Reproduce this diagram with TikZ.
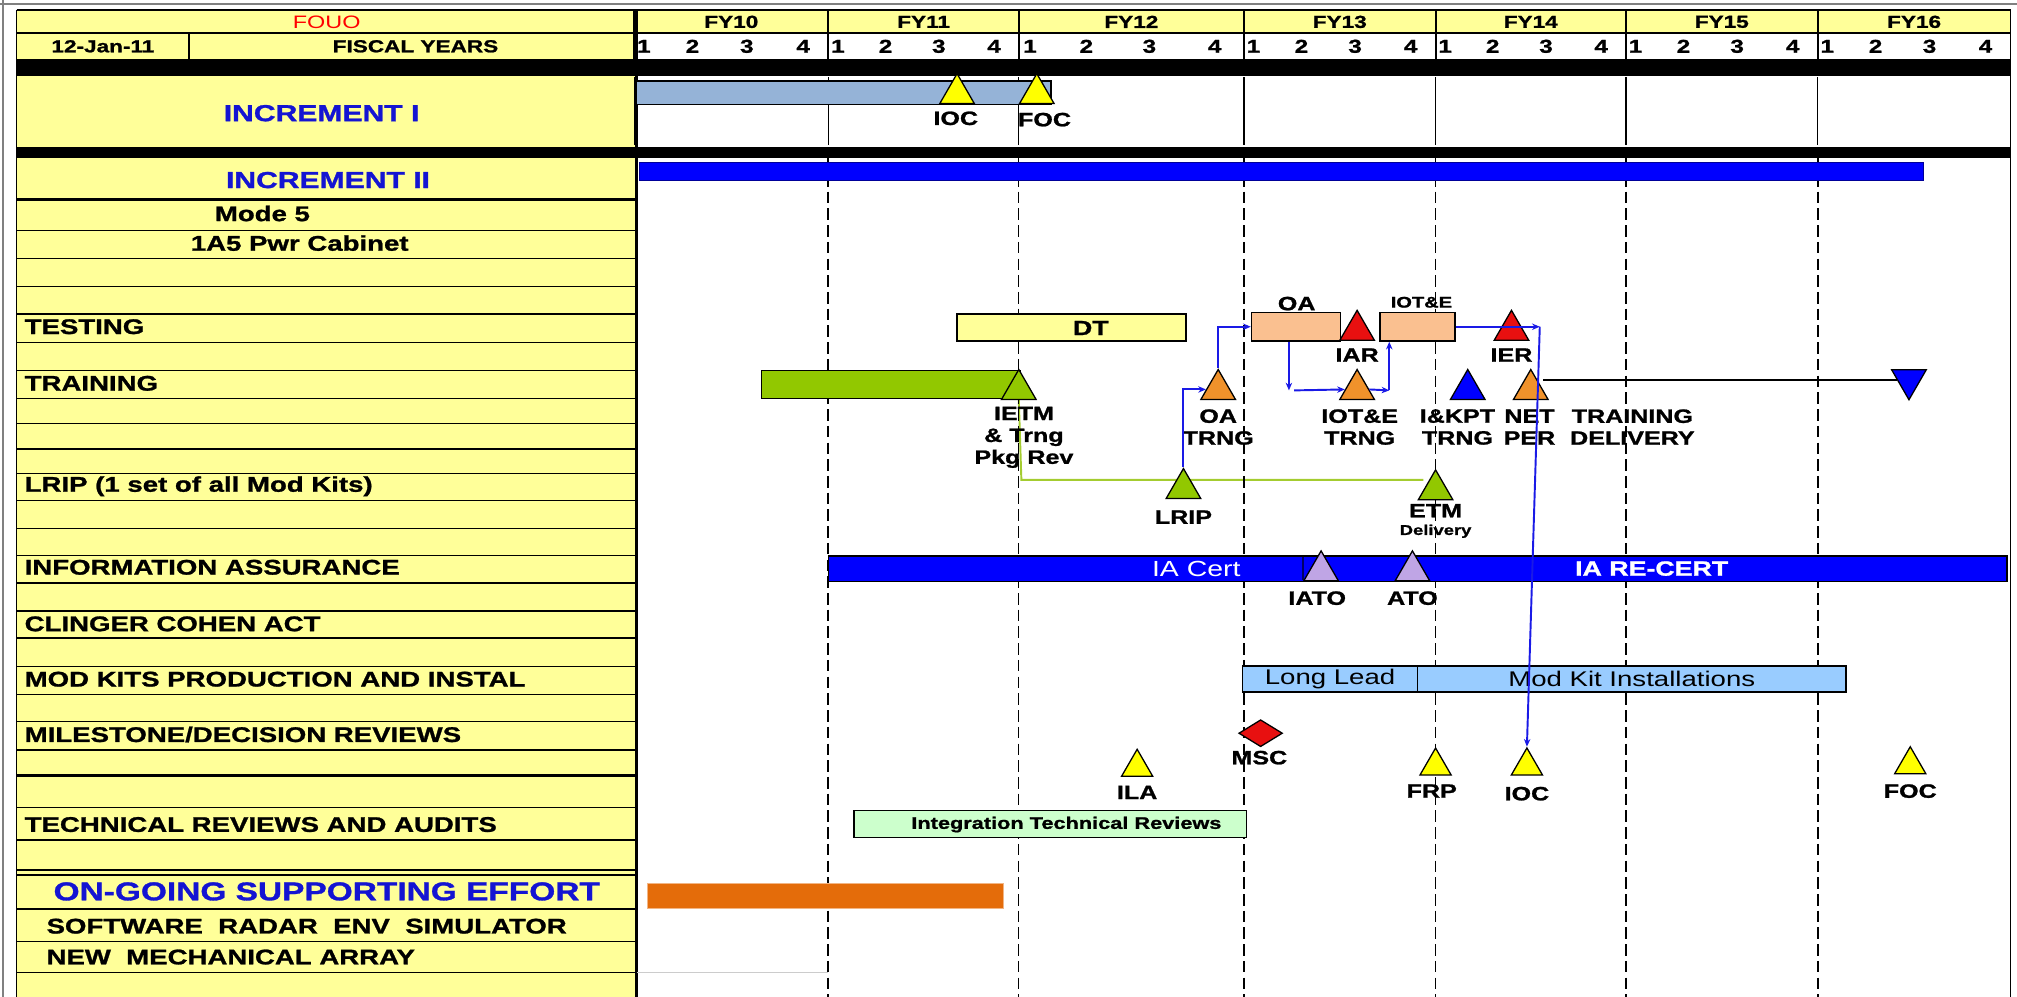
\documentclass[tikz,border=0pt]{standalone}
\usepackage{fontspec}
\setmainfont{Liberation Sans}[FakeStretch=1.3, BoldFeatures={FakeBold=1.2}]
\usetikzlibrary{arrows.meta, shapes.geometric, backgrounds}
\newcommand{\fsize}[1]{\fontsize{#1}{#1}\selectfont}
\definecolor{hdryellow}{HTML}{FFFF99}
\definecolor{incblue}{HTML}{95B3D7}
\definecolor{barblue}{HTML}{0000FF}
\definecolor{lblblue}{HTML}{1414D2}
\definecolor{peach}{HTML}{FAC090}
\definecolor{trgreen}{HTML}{92C800}
\definecolor{lineGreen}{HTML}{A4CC30}
\definecolor{msorange}{HTML}{F0922B}
\definecolor{msred}{HTML}{E81010}
\definecolor{msyellow}{HTML}{FFFF00}
\definecolor{mspurple}{HTML}{BFA5E5}
\definecolor{modblue}{HTML}{99CCFF}
\definecolor{itrgreen}{HTML}{CCFFCC}
\definecolor{ongoing}{HTML}{E46C0A}
\definecolor{arrowblue}{HTML}{1A1AE6}

\begin{document}
\begin{tikzpicture}[x=1pt, y=-1pt, >=Stealth,
    rowlbl/.style={anchor=west, inner sep=0pt, font=\bfseries\fsize{16.5}},
    hdrlbl/.style={inner sep=0pt, font=\bfseries\fsize{13.5}},
    mslbl/.style={inner sep=0pt, align=center, font=\bfseries\fontsize{15}{17}\selectfont},
    tri/.style={regular polygon, regular polygon sides=3, draw=black, line width=1pt,
      inner sep=0pt, minimum size=31pt, anchor=south},
    bar/.style={draw=black, line width=1.3pt, inner sep=0pt, font=\fsize{16.5}},
    flow/.style={->, draw=arrowblue, line width=1.5pt, >={Stealth[length=6pt,width=5pt]}},
    fyline/.style={dash pattern=on 9pt off 4pt}]
  \useasboundingbox (0,0) rectangle (1568,775);
  % frame and fills
  \draw[gray, line width=1.5pt] (0,3) -- (1568,3);
  \draw[gray, line width=1.5pt] (2,0) -- (2,775);
  \fill[hdryellow] (13,8) rectangle (495,46);
  \fill[hdryellow] (495,8) rectangle (1563,26);
  \fill[hdryellow] (13,59) rectangle (495,775);
  \fill (13,46) rectangle (1563,59);
  \fill (13,114) rectangle (1563,123);
  % header
  \draw[line width=1.5pt] (13,8) -- (1563,8) (13,26) -- (1563,26);
  \draw[line width=1.2pt] (147,26) -- (147,46);
  \node[inner sep=0pt, text=red, font=\fsize{14}] (fouo) at (254,17) {FOUO};
  \node[hdrlbl] (today) at (80,36) {12-Jan-11};
  \node[hdrlbl] (fiscal) at (323,36) {FISCAL YEARS};
  \foreach \xa/\xb/\fy in {493/644/10, 644/792/11, 792/967/12, 967/1116/13,
      1116/1264/14, 1264/1413/15, 1413/1563/16} {
    \draw[line width=1.5pt] (\xa,8) -- (\xa,46);
    \draw[line width=1pt] (\xa,60) -- (\xa,113);
    \node[hdrlbl] (fy\fy) at ({(\xa+\xb)/2},17) {FY\fy};
    \foreach \q/\f in {1/0.05, 2/0.3, 3/0.58, 4/0.87}
      \node[hdrlbl, font=\bfseries\fsize{14.5}] (q\fy-\q) at ({\xa+\f*(\xb-\xa)},36) {\q};
  }
  % rows of the left column
  \foreach \yy/\lw in {155/2.2, 179/1, 201/1, 223/1, 244/1, 266/1, 288/1, 310/1,
      329/1, 349/1, 368/1, 389/1, 411/1, 432/1, 453/1.6, 475/1, 496/1, 518/1,
      540/1, 561/1, 583/1, 603/2, 628/1, 653/1, 676/1.6, 680/1.6, 707/1.6,
      732/1, 756/1}
    \draw[line width=\lw pt] (13,\yy) -- (495,\yy);
  \draw[line width=1pt] (13,8) -- (13,775);
  \draw[line width=2pt] (495,8) -- (495,775);
  \draw[line width=1.2pt] (1563,8) -- (1563,775);
  \draw[gray!40] (495,756) -- (644,756);
  % fiscal year lines
  \foreach \xx/\lw in {644/1.5, 792/1, 967/1.5, 1116/1, 1264/0.9, 1413/1.5}
    \draw[fyline, line width=\lw pt] (\xx,123) -- (\xx,775);
  % left column labels
  \node[inner sep=0pt, text=lblblue, font=\bfseries\fsize{18}] (inc1) at (250,88) {INCREMENT I};
  \node[inner sep=0pt, text=lblblue, font=\bfseries\fsize{18}] (inc2) at (255,140) {INCREMENT II};
  \node[inner sep=0pt, font=\bfseries\fsize{16.5}] (mode5) at (204,166) {Mode 5};
  \node[inner sep=0pt, font=\bfseries\fsize{16.5}] (pwrcab) at (233,189) {1A5 Pwr Cabinet};
  \node[rowlbl] (testing) at (19,254) {TESTING};
  \node[rowlbl] (training) at (19,298) {TRAINING};
  \node[rowlbl] (lriprow) at (19,378) {LRIP (1 set of all Mod Kits)};
  \node[rowlbl] (infoassur) at (19,441) {INFORMATION ASSURANCE};
  \node[rowlbl] (clinger) at (19,485) {CLINGER COHEN ACT};
  \node[rowlbl] (modkits) at (19,528) {MOD KITS PRODUCTION AND INSTAL};
  \node[rowlbl] (milestone) at (19,571) {MILESTONE/DECISION REVIEWS};
  \node[rowlbl] (techrev) at (19,641) {TECHNICAL REVIEWS AND AUDITS};
  \node[inner sep=0pt, text=lblblue, font=\bfseries\fsize{20}] (ongoinglbl) at (254,693) {ON-GOING SUPPORTING EFFORT};
  \node[rowlbl] (software) at (36,720) {SOFTWARE\ \ RADAR\ \ ENV\ \ SIMULATOR};
  \node[rowlbl] (mecharray) at (36,744) {NEW\ \ MECHANICAL ARRAY};
  % bars
  \node[bar, line width=1pt, fill=incblue, minimum width=322pt, minimum height=18pt] (inc1bar) at (656,72) {};
  \node[bar, line width=0.8pt, draw=barblue!60!black, fill=barblue, minimum width=998pt, minimum height=14pt] (inc2bar) at (996,133) {};
  \node[bar, fill=hdryellow, minimum width=178pt, minimum height=21pt] (dt) at (833,254.5) {};
  \node[bar, fill=peach, minimum width=69pt, minimum height=22pt] (oa) at (1007.5,254) {};
  \node[bar, fill=peach, minimum width=58pt, minimum height=22pt] (iote) at (1102,254) {};
  \node[bar, line width=1pt, fill=trgreen, minimum width=201pt, minimum height=22pt] (trainbar) at (692.5,299) {};
  \node[bar, fill=barblue, minimum width=916pt, minimum height=20pt] (iabar) at (1102,442) {};
  \draw[line width=1.5pt, barblue!40!black] (1013,433) -- (1013,451);
  \node[bar, fill=modblue, minimum width=136pt, minimum height=20pt] (longlead) at (1034,528) {Long Lead};
  \node[bar, fill=modblue, minimum width=333pt, minimum height=20pt] (modinst) at (1268.5,528) {Mod Kit Installations};
  \node[bar, fill=itrgreen, minimum width=305pt, minimum height=21pt] (itr) at (816.5,640.5) {};
  \node[bar, line width=0.8pt, draw=ongoing!50!white, fill=ongoing, minimum width=277pt, minimum height=19pt] (ongoingbar) at (641.5,696.5) {};
  % bar texts
  \node[inner sep=0pt, font=\bfseries\fsize{16}] (dtlbl) at (848,255) {DT};
  \node[inner sep=0pt, text=white, font=\fsize{17}] (iacert) at (930,442) {IA Cert};
  \node[inner sep=0pt, text=white, font=\bfseries\fsize{16}] (iarecert) at (1284,442) {IA RE-CERT};
  \node[inner sep=0pt, font=\bfseries\fsize{13}] (itrlbl) at (829,641) {Integration Technical Reviews};
  \coordinate (gturn) at (794,373);
  % milestones
  \node[tri, fill=msyellow] (ioc1) at (744,81) {};
  \node[tri, fill=msyellow] (foc1) at (806,81) {};
  \node[tri, fill=trgreen] (ietm) at (792,311) {};
  \node[tri, fill=trgreen] (lrip) at (920,388) {};
  \node[tri, fill=msorange] (oatrng) at (947,311) {};
  \node[tri, fill=msred] (iar) at (1055,265) {};
  \node[tri, fill=msorange] (iotetrng) at (1055,311) {};
  \node[tri, fill=barblue] (ikpt) at (1141,311) {};
  \node[tri, fill=msorange] (netper) at (1190,311) {};
  \node[tri, fill=msred] (ier) at (1175,265) {};
  \node[tri, fill=barblue, shape border rotate=180, anchor=north] (trdeliv) at (1484,287) {};
  \node[tri, fill=trgreen] (etm) at (1116,389) {};
  \node[tri, fill=mspurple] (iato) at (1027,452) {};
  \node[tri, fill=mspurple] (ato) at (1098,452) {};
  \node[tri, fill=msyellow, minimum size=28pt] (ila) at (884,604) {};
  \node[tri, fill=msyellow, minimum size=28pt] (frp) at (1116,603) {};
  \node[tri, fill=msyellow, minimum size=28pt] (ioc2) at (1187,603) {};
  \node[tri, fill=msyellow, minimum size=28pt] (foc2) at (1485,602) {};
  \node[diamond, draw=black, line width=1pt, fill=msred, inner sep=0pt,
    minimum width=34pt, minimum height=21pt] (msc) at (980,570) {};
  % milestone texts
  \node[mslbl] (ioc1lbl) at (743,92) {IOC};
  \node[mslbl] (foc1lbl) at (812,93) {FOC};
  \node[mslbl] (oalbl) at (1008,236) {OA};
  \node[inner sep=0pt, font=\bfseries\fsize{12}] (iotelbl) at (1105,235) {IOT\&E};
  \node[mslbl] (iarlbl) at (1055,276) {IAR};
  \node[mslbl] (ierlbl) at (1175,276) {IER};
  \node[mslbl] (ietmlbl) at (796,340) {IETM\\\& Trng\\Pkg Rev};
  \node[mslbl] (oatrnglbl) at (947,332) {OA\\TRNG};
  \node[mslbl] (iotetrnglbl) at (1057,332) {IOT\&E\\TRNG};
  \node[mslbl] (ikptlbl) at (1133,332) {I\&KPT\\TRNG};
  \node[mslbl] (netperlbl) at (1189,332) {NET\\PER};
  \node[mslbl] (trdelivlbl) at (1269,332) {TRAINING\\DELIVERY};
  \node[mslbl] (lriplbl) at (920,402) {LRIP};
  \node[mslbl] (etmlbl) at (1116,397) {ETM};
  \node[inner sep=0pt, font=\bfseries\fsize{11}] (etmdeliv) at (1116,413) {Delivery};
  \node[mslbl] (iatolbl) at (1024,465) {IATO};
  \node[mslbl] (atolbl) at (1098,465) {ATO};
  \node[mslbl] (msclbl) at (979,589) {MSC};
  \node[mslbl] (ilalbl) at (884,616) {ILA};
  \node[mslbl] (frplbl) at (1113,615) {FRP};
  \node[mslbl] (ioc2lbl) at (1187,617) {IOC};
  \node[mslbl] (foc2lbl) at (1485,615) {FOC};
  % links
  \begin{scope}[on background layer]
    \draw[lineGreen, line width=1.5pt] (ietm.south) -- (gturn) -- (gturn -| etm.west);
  \end{scope}
  \draw[line width=1.3pt] (trdeliv.west -| netper.east) -- (trdeliv.west);
  \draw[flow] (lrip.north) |- (oatrng.west);
  \draw[flow] (oatrng.north) |- (oa.west);
  \coordinate (oadrop) at (1002,303.5);
  \draw[flow] (oadrop |- oa.south) -- (oadrop);
  \draw[flow] ([xshift=4pt]oadrop) -- (iotetrng.west);
  \coordinate (iotup) at (1080,303.5);
  \draw[flow] (iotetrng.east) -- (iotup);
  \draw[flow] (iotup) -- (iotup |- iote.south);
  \coordinate (ierturn) at (1197,254);
  \draw[flow] (iote.east) -- (ierturn);
  \draw[flow] (ierturn) -- (ioc2.north);
\end{tikzpicture}
\end{document}
